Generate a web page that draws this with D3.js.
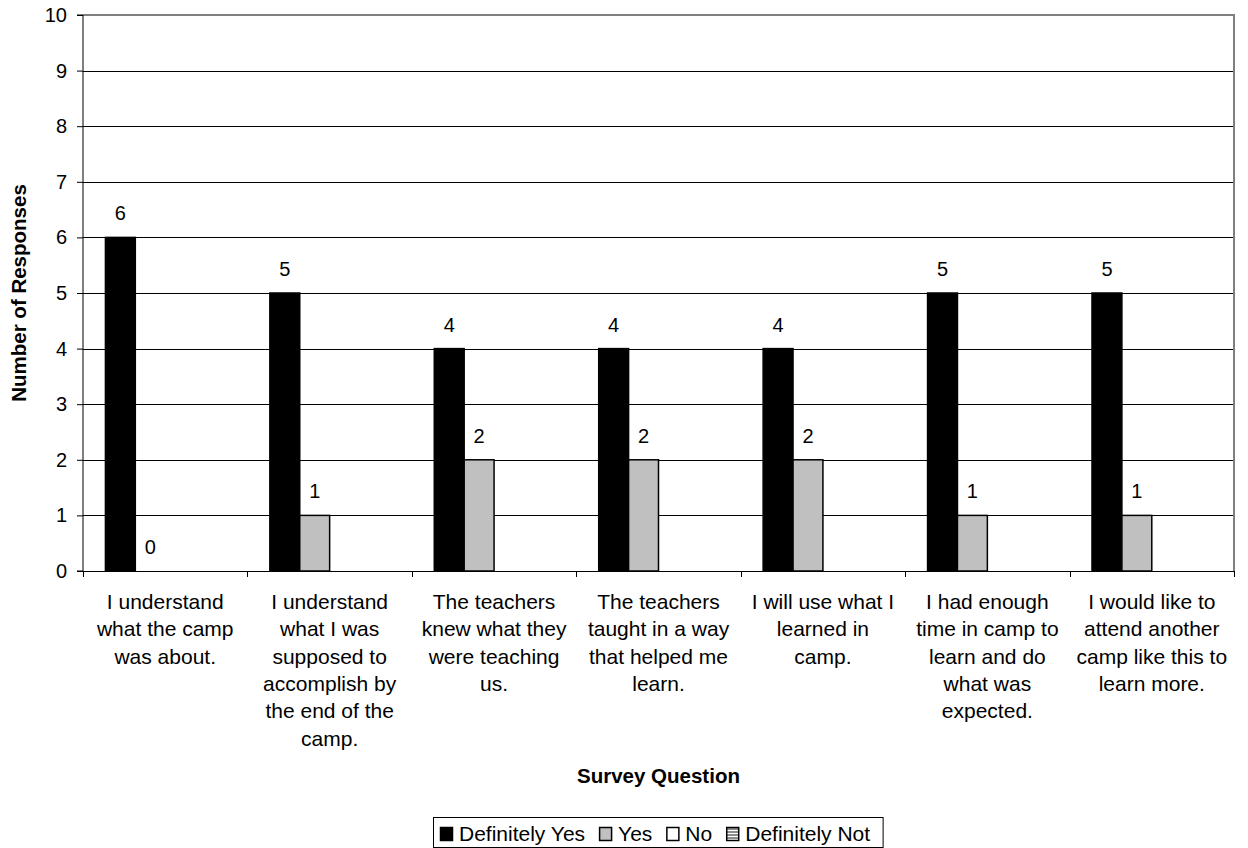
<!DOCTYPE html>
<html>
<head>
<meta charset="utf-8">
<script src="https://cdn.jsdelivr.net/npm/d3@7/dist/d3.min.js"></script>
<style>
  html, body { margin: 0; padding: 0; background: #fff; }
  svg { display: block; font-family: Arial, "Liberation Sans", sans-serif; }
</style>
</head>
<body>
<svg id="chart" width="1248" height="848"></svg>
<script>
// Survey questions, each split into the lines shown under the axis
const categories = [
  ["I understand", "what the camp", "was about."],
  ["I understand", "what I was", "supposed to", "accomplish by", "the end of the", "camp."],
  ["The teachers", "knew what they", "were teaching", "us."],
  ["The teachers", "taught in a way", "that helped me", "learn."],
  ["I will use what I", "learned in", "camp."],
  ["I had enough", "time in camp to", "learn and do", "what was", "expected."],
  ["I would like to", "attend another", "camp like this to", "learn more."]
];

const seriesNames = ["Definitely Yes", "Yes", "No", "Definitely Not"];

// Responses per question (null = no answers recorded)
const definitelyYes = [6, 5, 4, 4, 4, 5, 5];
const yes           = [0, 1, 2, 2, 2, 1, 1];
const no            = [null, null, null, null, null, null, null];
const definitelyNot = [null, null, null, null, null, null, null];

const yTicks = [0, 1, 2, 3, 4, 5, 6, 7, 8, 9, 10];

const seriesValues = [definitelyYes, yes, no, definitelyNot];
const seriesFill = ["#000000", "#c0c0c0", "#ffffff", "url(#hatch)"];

const svg = d3.select("#chart");
const plotLeft = 83, plotRight = 1234, plotTop = 15, plotBottom = 571;

const defs = svg.append("defs");
const pat = defs.append("pattern")
  .attr("id", "hatch").attr("patternUnits", "userSpaceOnUse")
  .attr("width", 4).attr("height", 3);
pat.append("rect").attr("width", 4).attr("height", 3).attr("fill", "#ffffff");
pat.append("rect").attr("width", 4).attr("height", 2).attr("fill", "#8c8c8c");

const catIdx = categories.map((_, i) => i);
const x = d3.scaleBand().domain(catIdx).range([plotLeft, plotRight]).paddingInner(0).paddingOuter(0);
const xs = d3.scaleBand().domain(d3.range(seriesNames.length))
  .range([0, x.bandwidth()]).paddingInner(0).paddingOuter(0.75);
const y = d3.scaleLinear().domain([0, 10]).range([plotBottom, plotTop]);

// Horizontal gridlines
svg.append("g").selectAll("line")
  .data(yTicks.filter(t => t > 0 && t < 10))
  .join("line")
  .attr("x1", plotLeft).attr("x2", plotRight)
  .attr("y1", d => Math.round(y(d)) + 0.5).attr("y2", d => Math.round(y(d)) + 0.5)
  .attr("stroke", "#000").attr("stroke-width", 1);

// Top and right frame
svg.append("line").attr("x1", plotLeft).attr("x2", plotRight + 1).attr("y1", y(10)).attr("y2", y(10))
  .attr("stroke", "#808080").attr("stroke-width", 2);
svg.append("line").attr("x1", plotRight).attr("x2", plotRight).attr("y1", y(10)).attr("y2", plotBottom)
  .attr("stroke", "#808080").attr("stroke-width", 2);

// Bars
const bars = [];
seriesValues.forEach((vals, s) => {
  vals.forEach((v, c) => {
    if (v !== null) bars.push({ s, c, v });
  });
});

svg.append("g").selectAll("rect")
  .data(bars.filter(d => d.v > 0))
  .join("rect")
  .attr("x", d => x(d.c) + xs(d.s))
  .attr("y", d => y(d.v))
  .attr("width", xs.bandwidth())
  .attr("height", d => y(0) - y(d.v))
  .attr("fill", d => seriesFill[d.s])
  .attr("stroke", "#000")
  .attr("stroke-width", 1.5);

// Value labels
svg.append("g").selectAll("text")
  .data(bars)
  .join("text")
  .attr("x", d => x(d.c) + xs(d.s) + xs.bandwidth() / 2)
  .attr("y", d => y(d.v) - 17)
  .attr("text-anchor", "middle")
  .attr("font-size", 20)
  .attr("fill", "#000")
  .text(d => d.v);

// Y axis
const yAxis = d3.axisLeft(y).tickValues(yTicks).tickSize(6).tickPadding(10).tickFormat(d3.format("d"));
const gy = svg.append("g").attr("transform", `translate(${plotLeft},0)`).call(yAxis);
gy.select(".domain").attr("stroke", "#000").attr("d", `M-6,${plotTop}H0V${plotBottom}H-6`);
gy.selectAll(".tick line").attr("stroke", "#000");
gy.selectAll(".tick text").attr("font-size", 20).attr("font-family", "Arial, 'Liberation Sans', sans-serif").attr("fill", "#000");

// X axis line with ticks at category boundaries
svg.append("line").attr("x1", plotLeft).attr("x2", plotRight).attr("y1", plotBottom + 0.5).attr("y2", plotBottom + 0.5)
  .attr("stroke", "#000").attr("stroke-width", 1);
svg.append("g").selectAll("line")
  .data(d3.range(categories.length + 1))
  .join("line")
  .attr("x1", d => Math.round(plotLeft + d * x.step()) + 0.5).attr("x2", d => Math.round(plotLeft + d * x.step()) + 0.5)
  .attr("y1", plotBottom).attr("y2", plotBottom + 6)
  .attr("stroke", "#000");

// Category labels
const catG = svg.append("g").selectAll("text")
  .data(categories)
  .join("text")
  .attr("text-anchor", "middle")
  .attr("font-size", 21)
  .attr("fill", "#000")
  .attr("transform", (d, i) => `translate(${x(i) + x.bandwidth() / 2},609)`);
catG.selectAll("tspan")
  .data(d => d)
  .join("tspan")
  .attr("x", 0)
  .attr("y", (d, i) => i * 27.3)
  .text(d => d);

// Axis titles
svg.append("text")
  .attr("x", (plotLeft + plotRight) / 2).attr("y", 783)
  .attr("text-anchor", "middle").attr("font-size", 20.5).attr("font-weight", "bold")
  .text("Survey Question");
svg.append("text")
  .attr("transform", `translate(26,${(plotTop + plotBottom) / 2}) rotate(-90)`)
  .attr("text-anchor", "middle").attr("font-size", 20.5).attr("font-weight", "bold")
  .text("Number of Responses");

// Legend
const legend = svg.append("g");
const legendBox = legend.append("rect")
  .attr("x", 433.5).attr("y", 817.5).attr("height", 30)
  .attr("fill", "#fff").attr("stroke", "#000").attr("stroke-width", 1);
let lx = 440;
seriesNames.forEach((name, i) => {
  legend.append("rect")
    .attr("x", lx + 0.5).attr("y", 827.5).attr("width", 12).attr("height", 13)
    .attr("fill", seriesFill[i]).attr("stroke", "#000").attr("stroke-width", 1.5);
  const t = legend.append("text")
    .attr("x", lx + 19).attr("y", 841)
    .attr("font-size", 21).attr("fill", "#000")
    .text(name);
  lx = lx + 19 + t.node().getComputedTextLength() + 14;
});
legendBox.attr("width", lx - 433.5 - 1);
</script>
</body>
</html>
